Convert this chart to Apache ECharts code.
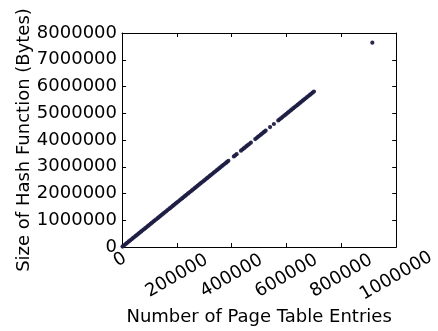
<!DOCTYPE html>
<html>
<head>
<meta charset="utf-8">
<script src="https://cdn.jsdelivr.net/npm/echarts@6/dist/echarts.min.js"></script>
<style>
  html, body { margin: 0; padding: 0; background: #fff; }
  #chart { width: 438px; height: 331px; }
</style>
</head>
<body>
<div id="chart"></div>
<script>
// Page table entries vs. size of the generated hash function
const entries = [
  2000, 5000, 10000, 15000, 20000, 25000, 30000, 35000, 40000, 45000,
  50000, 55000, 60000, 65000, 70000, 75000, 80000, 85000, 90000, 95000,
  100000, 105000, 110000, 115000, 120000, 125000, 130000, 135000, 140000, 145000,
  150000, 155000, 160000, 165000, 170000, 175000, 180000, 185000, 190000, 195000,
  200000, 205000, 210000, 215000, 220000, 225000, 230000, 235000, 240000, 245000,
  250000, 255000, 260000, 265000, 270000, 275000, 280000, 285000, 290000, 295000,
  300000, 305000, 310000, 315000, 320000, 325000, 330000, 335000, 340000, 345000,
  350000, 355000, 360000, 365000, 370000, 375000, 380000, 384000, 388000,
  408000, 413000, 418000,
  434000, 439000, 444000, 449000, 454000, 459000, 464000, 470000,
  486000, 491000, 496000, 501000, 506000, 511000, 516000, 520000, 524000,
  540000, 554000,
  570000, 575000, 580000, 585000, 590000, 595000, 600000, 605000, 610000, 615000,
  620000, 625000, 630000, 635000, 640000, 645000, 650000, 655000, 660000, 665000,
  670000, 675000, 680000, 685000, 690000, 695000, 700000,
  913000
];
const hashBytes = [
  16600, 41500, 83000, 124500, 166000, 207500, 249000, 290500, 332000, 373500,
  415000, 456500, 498000, 539500, 581000, 622500, 664000, 705500, 747000, 788500,
  830000, 871500, 913000, 954500, 996000, 1037500, 1079000, 1120500, 1162000, 1203500,
  1245000, 1286500, 1328000, 1369500, 1411000, 1452500, 1494000, 1535500, 1577000, 1618500,
  1660000, 1701500, 1743000, 1784500, 1826000, 1867500, 1909000, 1950500, 1992000, 2033500,
  2075000, 2116500, 2158000, 2199500, 2241000, 2282500, 2324000, 2365500, 2407000, 2448500,
  2490000, 2531500, 2573000, 2614500, 2656000, 2697500, 2739000, 2780500, 2822000, 2863500,
  2905000, 2946500, 2988000, 3029500, 3071000, 3112500, 3154000, 3187000, 3220000,
  3386000, 3428000, 3469000,
  3602000, 3644000, 3685000, 3727000, 3768000, 3810000, 3851000, 3901000,
  4034000, 4075000, 4117000, 4158000, 4200000, 4241000, 4283000, 4316000, 4349000,
  4482000, 4598000,
  4731000, 4773000, 4814000, 4856000, 4897000, 4939000, 4980000, 5022000, 5063000, 5105000,
  5146000, 5188000, 5229000, 5271000, 5312000, 5354000, 5395000, 5437000, 5478000, 5520000,
  5561000, 5603000, 5644000, 5686000, 5727000, 5769000, 5810000,
  7640000
];
const xTitle = 'Number of Page Table Entries';
const yTitle = 'Size of Hash Function (Bytes)';

const points = entries.map((x, i) => [x, hashBytes[i]]);

const FONT = 'DejaVu Sans';
const ink = '#000';

const frameAxis = {
  axisLine: { show: true, onZero: false, lineStyle: { color: ink, width: 1 } },
  axisTick: { show: true, inside: true, length: 4, lineStyle: { color: ink, width: 1 } },
  splitLine: { show: false }
};

const chart = echarts.init(document.getElementById('chart'), null, { renderer: 'canvas' });
chart.setOption({
  animation: false,
  backgroundColor: '#fff',
  grid: { left: 122, right: 39, top: 33, bottom: 84, containLabel: false },
  xAxis: [
    Object.assign({
      type: 'value', position: 'bottom', min: 0, max: 1000000, interval: 200000,
      name: xTitle, nameLocation: 'middle', nameGap: 61, nameMoveOverlap: false,
      nameTextStyle: { fontFamily: FONT, fontSize: 18, color: ink },
      axisLabel: {
        rotate: 30, margin: 29, align: 'center', verticalAlign: 'middle',
        fontFamily: FONT, fontSize: 18, color: ink,
        formatter: v => v === 0 ? '{z|0}' : String(v),
        rich: { z: { fontFamily: FONT, fontSize: 18, color: ink, padding: [0, 0, 30, 13] } }
      }
    }, frameAxis),
    Object.assign({
      type: 'value', position: 'top', min: 0, max: 1000000, interval: 200000,
      axisLabel: { show: false }
    }, frameAxis)
  ],
  yAxis: [
    Object.assign({
      type: 'value', position: 'left', min: 0, max: 8000000, interval: 1000000,
      name: yTitle, nameLocation: 'middle', nameRotate: 90, nameGap: 89, nameMoveOverlap: false,
      nameTextStyle: { fontFamily: FONT, fontSize: 18, color: ink },
      axisLabel: { margin: 5, fontFamily: FONT, fontSize: 18, color: ink, formatter: v => String(v) }
    }, frameAxis),
    Object.assign({
      type: 'value', position: 'right', min: 0, max: 8000000, interval: 1000000,
      axisLabel: { show: false }
    }, frameAxis)
  ],
  series: [{
    type: 'scatter',
    xAxisIndex: 0,
    yAxisIndex: 0,
    data: points,
    symbol: 'circle',
    symbolSize: 4.2,
    itemStyle: { color: '#1f1f45', opacity: 0.95 }
  }]
});
</script>
</body>
</html>
